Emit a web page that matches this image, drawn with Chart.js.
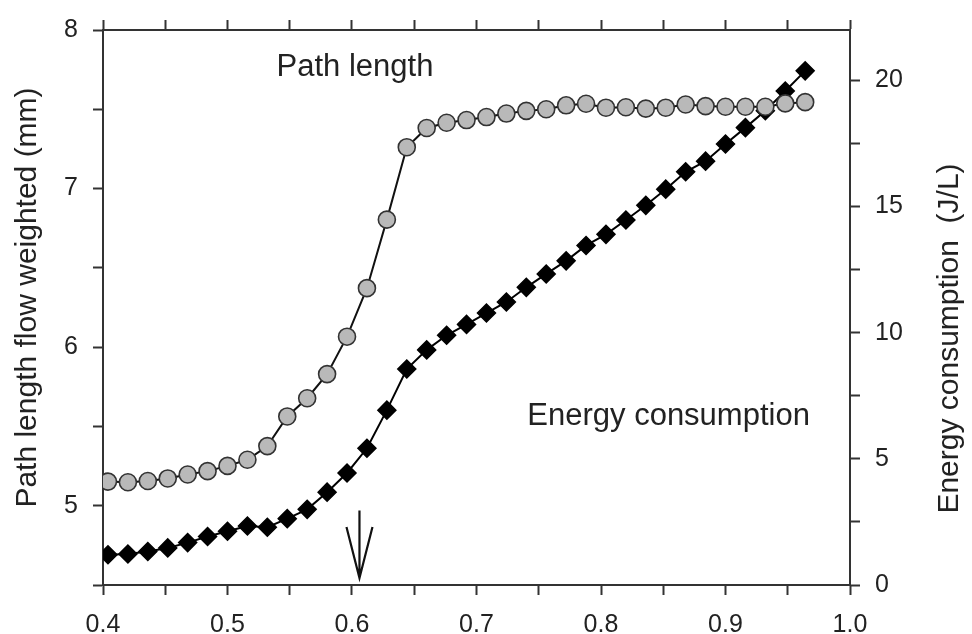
<!DOCTYPE html>
<html>
<head>
<meta charset="utf-8">
<title>Path length and energy consumption</title>
<script src="https://cdn.jsdelivr.net/npm/chart.js@4.4.1/dist/chart.umd.min.js"></script>
<style>
  html, body { margin: 0; padding: 0; background: #fff; }
  #wrap { width: 972px; height: 634px; }
</style>
</head>
<body>
<div id="wrap"><canvas id="chart"></canvas></div>
<script>
// flow ratio on the x axis
const ratios = [
  0.404, 0.420, 0.436, 0.452, 0.468, 0.484, 0.500, 0.516, 0.532, 0.548, 0.564, 0.580,
  0.596, 0.612, 0.628, 0.644, 0.660, 0.676, 0.692, 0.708, 0.724, 0.740, 0.756, 0.772,
  0.788, 0.804, 0.820, 0.836, 0.852, 0.868, 0.884, 0.900, 0.916, 0.932, 0.948, 0.964
];

// flow weighted path length (mm), left axis
const pathLength = [
  5.152, 5.148, 5.156, 5.172, 5.197, 5.218, 5.251, 5.290, 5.376, 5.563, 5.678, 5.830,
  6.066, 6.372, 6.804, 7.261, 7.382, 7.415, 7.432, 7.451, 7.473, 7.490, 7.500, 7.525,
  7.535, 7.510, 7.513, 7.504, 7.510, 7.530, 7.520, 7.516, 7.516, 7.516, 7.537, 7.545
];

// energy consumption (J/L), right axis
const energy = [
  1.20, 1.23, 1.33, 1.47, 1.68, 1.92, 2.13, 2.34, 2.29, 2.63, 3.00, 3.68,
  4.44, 5.42, 6.93, 8.56, 9.32, 9.90, 10.33, 10.78, 11.22, 11.80, 12.33, 12.85,
  13.46, 13.90, 14.47, 15.05, 15.69, 16.38, 16.80, 17.48, 18.13, 18.80, 19.58, 20.38
];

const xTicks = [0.4, 0.45, 0.5, 0.55, 0.6, 0.65, 0.7, 0.75, 0.8, 0.85, 0.9, 0.95, 1.0];
const pathTicks = [4.5, 5, 5.5, 6, 6.5, 7, 7.5, 8];
const energyTicks = [0, 2.5, 5, 7.5, 10, 12.5, 15, 17.5, 20];

const notes = [
  { text: 'Path length', x: 0.6024, y: 7.711, axis: 'y' },
  { text: 'Energy consumption', x: 0.8543, y: 6.35, axis: 'y2' }
];
const arrowMark = { x: 0.606, from: 2.95, to: 0.28 };

const FONT = "'Liberation Sans', Arial, Helvetica, sans-serif";
const INK = '#222';
const AXIS = '#333';

function fixedTicks(values) {
  return scale => { scale.ticks = values.map(v => ({ value: v })); };
}
function onStep(v, step) {
  return Math.abs(v / step - Math.round(v / step)) < 1e-6;
}

function axisLook(extra) {
  return Object.assign({
    type: 'linear',
    grid: { drawOnChartArea: false, drawTicks: true, tickLength: 10, tickWidth: 2, tickColor: AXIS },
    border: { display: true, color: AXIS, width: 2 },
    ticks: { font: { family: FONT, size: 25 }, color: INK, padding: 15, maxRotation: 0, autoSkip: false }
  }, extra);
}

// annotations, arrow and the two axis titles
const decor = {
  id: 'decor',
  afterDatasetsDraw(chart) {
    const { ctx, chartArea, scales } = chart;
    ctx.save();
    ctx.fillStyle = INK;
    ctx.font = '31px ' + FONT;
    ctx.textAlign = 'center';
    ctx.textBaseline = 'alphabetic';
    notes.forEach(n => {
      ctx.fillText(n.text, scales.x.getPixelForValue(n.x), scales[n.axis].getPixelForValue(n.y));
    });

    // downward arrow at the transition point
    const ax = scales.x.getPixelForValue(arrowMark.x);
    const top = scales.y2.getPixelForValue(arrowMark.from);
    const tip = scales.y2.getPixelForValue(arrowMark.to);
    ctx.strokeStyle = '#111';
    ctx.lineWidth = 2.2;
    ctx.beginPath();
    ctx.moveTo(ax, top);
    ctx.lineTo(ax, tip);
    ctx.moveTo(ax - 13, tip - 51);
    ctx.lineTo(ax, tip);
    ctx.lineTo(ax + 13, tip - 51);
    ctx.stroke();

    // rotated axis titles
    const mid = (chartArea.top + chartArea.bottom) / 2;
    ctx.font = '30px ' + FONT;
    ctx.textBaseline = 'middle';
    ctx.translate(chartArea.left - 75, mid - 10);
    ctx.rotate(-Math.PI / 2);
    ctx.fillText('Path length flow weighted (mm)', 0, 0);
    ctx.setTransform(1, 0, 0, 1, 0, 0);
    ctx.translate(chartArea.right + 100, mid + 31);
    ctx.rotate(-Math.PI / 2);
    ctx.fillText('Energy consumption  (J/L)', 0, 0);
    ctx.restore();
  }
};

new Chart(document.getElementById('chart'), {
  type: 'line',
  data: {
    datasets: [
      {
        label: 'Path length',
        data: ratios.map((r, i) => ({ x: r, y: pathLength[i] })),
        yAxisID: 'y',
        borderColor: '#111',
        borderWidth: 2,
        pointStyle: 'circle',
        pointRadius: 8.5,
        pointBorderWidth: 1.6,
        pointBorderColor: '#333',
        pointBackgroundColor: '#b9b9b9',
        tension: 0
      },
      {
        label: 'Energy consumption',
        data: ratios.map((r, i) => ({ x: r, y: energy[i] })),
        yAxisID: 'y2',
        borderColor: '#000',
        borderWidth: 2,
        pointStyle: 'rectRot',
        pointRadius: 9,
        pointBorderWidth: 1.5,
        pointBorderColor: '#000',
        pointBackgroundColor: '#000',
        tension: 0
      }
    ]
  },
  options: {
    responsive: true,
    maintainAspectRatio: false,
    animation: false,
    devicePixelRatio: 1,
    layout: { padding: { top: 13, left: 0, right: 0, bottom: 0 } },
    plugins: { legend: { display: false }, tooltip: { enabled: false } },
    scales: {
      x: axisLook({
        position: 'bottom', min: 0.4, max: 1.0,
        afterBuildTicks: fixedTicks(xTicks),
        afterFit: s => { s.height = 49; },
        ticks: Object.assign(axisLook().ticks, {
          callback: v => onStep(v, 0.1) ? v.toFixed(1) : ''
        })
      }),
      xTop: axisLook({
        position: 'top', min: 0.4, max: 1.0,
        afterBuildTicks: fixedTicks(xTicks),
        afterFit: s => { s.height = 10; },
        ticks: { display: false }
      }),
      y: axisLook({
        position: 'left', min: 4.5, max: 8,
        afterBuildTicks: fixedTicks(pathTicks),
        afterFit: s => { s.width = 103; },
        ticks: Object.assign(axisLook().ticks, {
          callback: v => onStep(v, 1) ? String(v) : ''
        })
      }),
      y2: axisLook({
        position: 'right', min: 0, max: 22,
        afterBuildTicks: fixedTicks(energyTicks),
        afterFit: s => { s.width = 122; },
        ticks: Object.assign(axisLook().ticks, {
          callback: v => onStep(v, 5) ? String(v) : ''
        })
      })
    }
  },
  plugins: [decor]
});
</script>
</body>
</html>
